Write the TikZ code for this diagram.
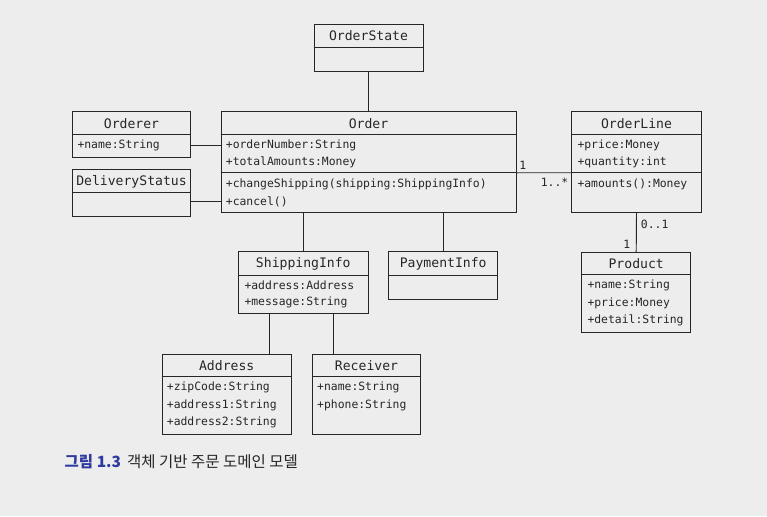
\documentclass[tikz,border=0pt]{standalone}
\usepackage{fontspec}
\setmonofont{DejaVu Sans Mono}
\newfontfamily\krfont{Noto Sans CJK KR}
\definecolor{pagebg}{HTML}{EDEDED}
\definecolor{umlink}{HTML}{262626}
\definecolor{capblue}{HTML}{2F3AA0}
\tikzset{
  cls/.style={draw=umlink, line width=0.95pt, rectangle, inner sep=0pt},
  clsname/.style={font=\ttfamily\fontsize{13.1}{15}\selectfont, text=umlink, inner sep=0pt},
  member/.style={font=\ttfamily\fontsize{11.4}{13}\selectfont, text=umlink, anchor=west, inner sep=0pt},
  assoc/.style={draw=umlink, line width=0.95pt},
  mult/.style={font=\ttfamily\fontsize{11.4}{13}\selectfont, text=umlink, inner sep=0pt},
}
\begin{document}
\begin{tikzpicture}[x=1pt,y=-1pt]
	\fill[pagebg] (0,0) rectangle (767,516);
	\useasboundingbox (0,0) rectangle (767,516);
	% OrderState
	\node[cls, minimum width=109pt, minimum height=47pt] (orderstate) at (368.5,47.5) {};
	\draw[assoc] ([yshift=-23.5pt]orderstate.north west) -- ([yshift=-23.5pt]orderstate.north east);
	\node[clsname] (orderstatename) at (368.5,36) {OrderState};
	% Order
	\node[cls, minimum width=295pt, minimum height=100.5pt] (order) at (368.5,162) {};
	\draw[assoc] ([yshift=-23.5pt]order.north west) -- ([yshift=-23.5pt]order.north east);
	\draw[assoc] ([yshift=-61.5pt]order.north west) -- ([yshift=-61.5pt]order.north east);
	\node[clsname] (ordername) at (368.5,123.3) {Order};
	\node[member] (ordernumber) at (225.7,145.3) {+orderNumber:String};
	\node[member] (totalamounts) at (225.7,162.5) {+totalAmounts:Money};
	\node[member] (changeshipping) at (225.7,184.3) {+changeShipping(shipping:ShippingInfo)};
	\node[member] (cancelop) at (225.7,201.7) {+cancel()};
	% Orderer
	\node[cls, minimum width=117.5pt, minimum height=46.5pt] (orderer) at (131.5,134.5) {};
	\draw[assoc] ([yshift=-23.5pt]orderer.north west) -- ([yshift=-23.5pt]orderer.north east);
	\node[clsname] (orderername) at (131.5,123.5) {Orderer};
	\node[member] (orderername2) at (77.3,145.3) {+name:String};
	% DeliveryStatus
	\node[cls, minimum width=117.5pt, minimum height=46.5pt] (delivery) at (131.5,193) {};
	\draw[assoc] ([yshift=-23.5pt]delivery.north west) -- ([yshift=-23.5pt]delivery.north east);
	\node[clsname] (deliveryname) at (131.5,181.5) {DeliveryStatus};
	% OrderLine
	\node[cls, minimum width=130pt, minimum height=101pt] (orderline) at (636.5,162.2) {};
	\draw[assoc] ([yshift=-23.5pt]orderline.north west) -- ([yshift=-23.5pt]orderline.north east);
	\draw[assoc] ([yshift=-61.5pt]orderline.north west) -- ([yshift=-61.5pt]orderline.north east);
	\node[clsname] (orderlinename) at (636.5,123.3) {OrderLine};
	\node[member] (lineprice) at (577.3,145.3) {+price:Money};
	\node[member] (linequantity) at (577.3,162) {+quantity:int};
	\node[member] (lineamounts) at (577.3,184.3) {+amounts():Money};
	% Product
	\node[cls, minimum width=109pt, minimum height=80pt] (product) at (636.2,292.3) {};
	\draw[assoc] ([yshift=-22.7pt]product.north west) -- ([yshift=-22.7pt]product.north east);
	\node[clsname] (productname) at (636.2,264) {Product};
	\node[member] (prodname) at (587.3,285.5) {+name:String};
	\node[member] (prodprice) at (587.3,303) {+price:Money};
	\node[member] (proddetail) at (587.3,320.3) {+detail:String};
	% ShippingInfo
	\node[cls, minimum width=130pt, minimum height=61.6pt] (shipping) at (303.3,282.5) {};
	\draw[assoc] ([yshift=-24pt]shipping.north west) -- ([yshift=-24pt]shipping.north east);
	\node[clsname] (shippingname) at (303.3,264) {ShippingInfo};
	\node[member] (shipaddress) at (244.3,285.7) {+address:Address};
	\node[member] (shipmessage) at (244.3,302.7) {+message:String};
	% PaymentInfo
	\node[cls, minimum width=109pt, minimum height=47.3pt] (payment) at (443.2,275.4) {};
	\draw[assoc] ([yshift=-24pt]payment.north west) -- ([yshift=-24pt]payment.north east);
	\node[clsname] (paymentname) at (443.2,264) {PaymentInfo};
	% Address
	\node[cls, minimum width=129pt, minimum height=79.7pt] (address) at (226.7,394.2) {};
	\draw[assoc] ([yshift=-23pt]address.north west) -- ([yshift=-23pt]address.north east);
	\node[clsname] (addressname) at (226.7,366) {Address};
	\node[member] (zipcode) at (166.7,387.7) {+zipCode:String};
	\node[member] (address1) at (166.7,405) {+address1:String};
	\node[member] (address2) at (166.7,422.7) {+address2:String};
	% Receiver
	\node[cls, minimum width=108.5pt, minimum height=79.7pt] (receiver) at (366.5,394.2) {};
	\draw[assoc] ([yshift=-23pt]receiver.north west) -- ([yshift=-23pt]receiver.north east);
	\node[clsname] (receivername) at (366.5,366) {Receiver};
	\node[member] (recvname) at (317,387.7) {+name:String};
	\node[member] (recvphone) at (317,405) {+phone:String};
	% associations
	\draw[assoc] (orderstate.south) -- (order.north);
	\draw[assoc] (orderername2 -| orderer.east) -- (orderername2 -| order.west);
	\draw[assoc] (cancelop -| delivery.east) -- (cancelop -| order.west);
	\draw[assoc] ([yshift=-61.5pt]order.north east) -- ([yshift=-61.5pt]orderline.north west);
	\node[mult] (m1) at (522.7,165) {1};
	\node[mult, anchor=east] (m2) at (568.5,182.7) {1..*};
	\draw[assoc] (orderline.south) -- (product.north);
	\node[mult, anchor=west] (m3) at (640.7,224) {0..1};
	\node[mult] (m4) at (626.7,244) {1};
	\draw[assoc] (shipping.north) -- (shipping.north |- order.south);
	\draw[assoc] (payment.north) -- (payment.north |- order.south);
	\draw[assoc] ([xshift=43pt]address.north) -- ([xshift=43pt]address.north |- shipping.south);
	\draw[assoc] ([xshift=-33pt]receiver.north) -- ([xshift=-33pt]receiver.north |- shipping.south);
	% caption
	\node[anchor=west, inner sep=0pt, font=\krfont\fontsize{15.5}{18}\selectfont] (caption) at (64.5,462)
		{\textcolor{capblue}{\bfseries 그림 1.3}\hspace{2.5pt}\ \textcolor{umlink}{객체 기반 주문 도메인 모델}};
\end{tikzpicture}
\end{document}
